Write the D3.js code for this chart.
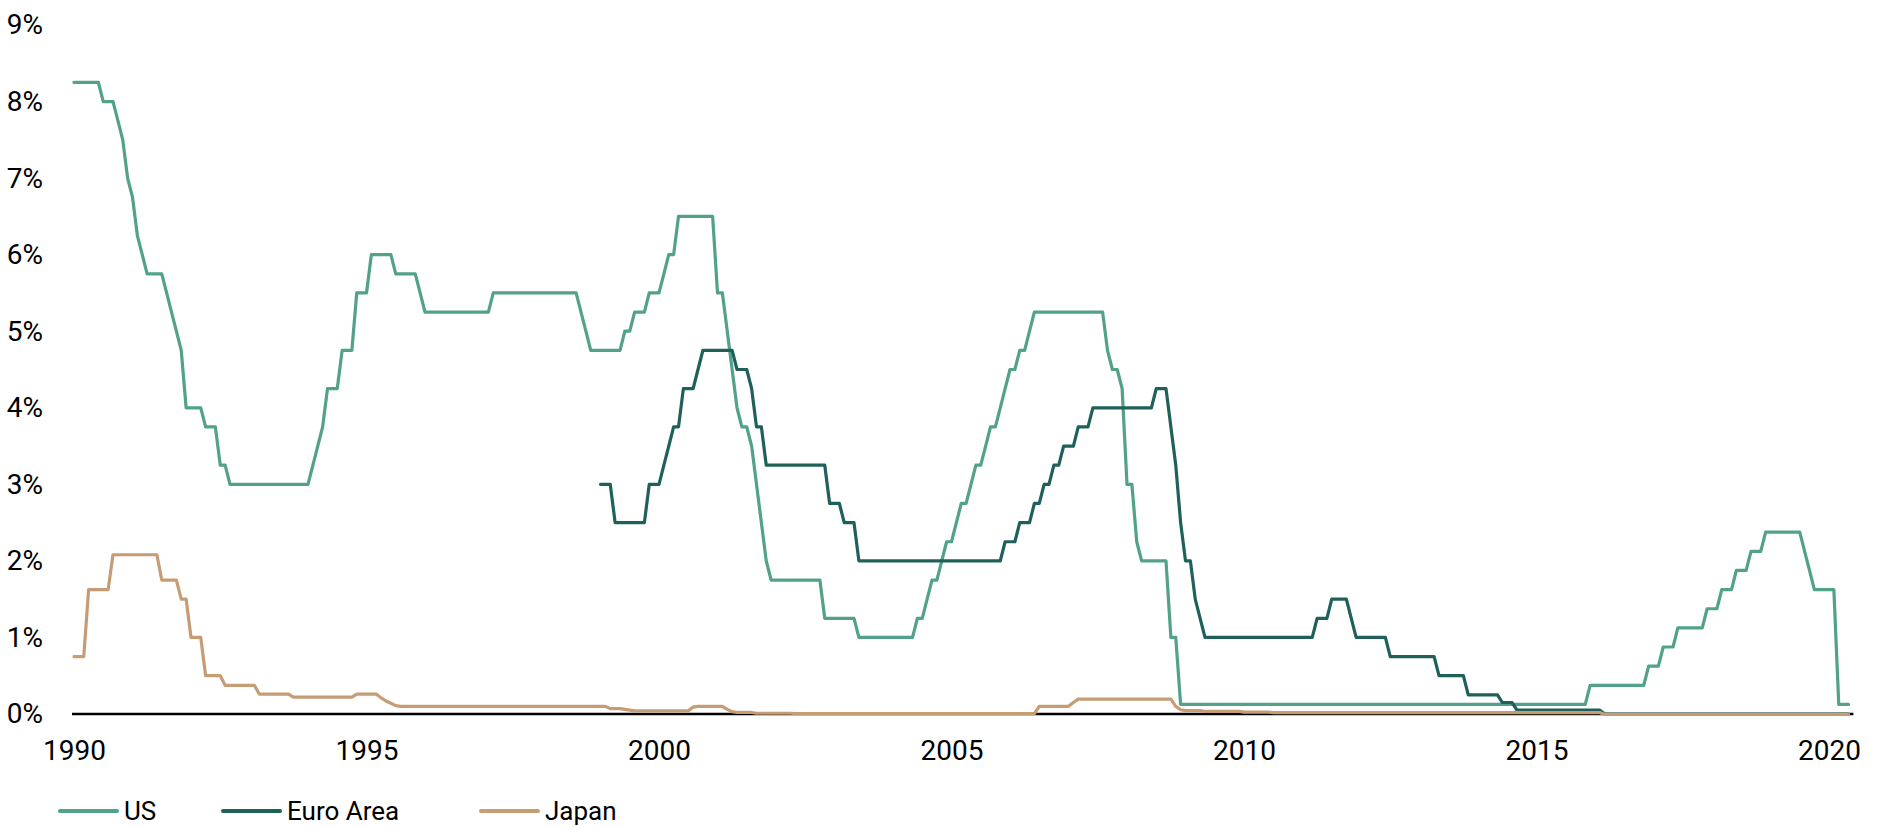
<!DOCTYPE html>
<html>
<head>
<meta charset="utf-8">
<script src="https://cdn.jsdelivr.net/npm/d3@7"></script>
<style>
  html, body { margin: 0; padding: 0; background: #ffffff; }
  svg { display: block; }
  text { font-family: Roboto, "Open Sans", sans-serif; fill: #000; }
</style>
</head>
<body>
<svg id="chart" width="1885" height="827"></svg>
<script>
// Policy rates, month-end, January 1990 to May 2020.
// Each series is stored as runs: [rate in %, number of consecutive months].
const usRuns = [
  // 1990
  [8.25, 6], [8.0, 3], [7.75, 1], [7.5, 1], [7.0, 1],
  // 1991
  [6.75, 1], [6.25, 1], [6.0, 1], [5.75, 4], [5.5, 1], [5.25, 1], [5.0, 1], [4.75, 1], [4.0, 1],
  // 1992
  [4.0, 3], [3.75, 3], [3.25, 2], [3.0, 4],
  // 1993
  [3.0, 12],
  // 1994
  [3.0, 1], [3.25, 1], [3.5, 1], [3.75, 1], [4.25, 3], [4.75, 3], [5.5, 2],
  // 1995
  [5.5, 1], [6.0, 5], [5.75, 5], [5.5, 1],
  // 1996
  [5.25, 12],
  // 1997
  [5.25, 2], [5.5, 10],
  // 1998
  [5.5, 8], [5.25, 1], [5.0, 1], [4.75, 2],
  // 1999
  [4.75, 5], [5.0, 2], [5.25, 3], [5.5, 2],
  // 2000
  [5.5, 1], [5.75, 1], [6.0, 2], [6.5, 8],
  // 2001
  [5.5, 2], [5.0, 1], [4.5, 1], [4.0, 1], [3.75, 2], [3.5, 1], [3.0, 1], [2.5, 1], [2.0, 1], [1.75, 1],
  // 2002
  [1.75, 10], [1.25, 2],
  // 2003
  [1.25, 5], [1.0, 7],
  // 2004
  [1.0, 5], [1.25, 2], [1.5, 1], [1.75, 2], [2.0, 1], [2.25, 1],
  // 2005
  [2.25, 1], [2.5, 1], [2.75, 2], [3.0, 1], [3.25, 2], [3.5, 1], [3.75, 2], [4.0, 1], [4.25, 1],
  // 2006
  [4.5, 2], [4.75, 2], [5.0, 1], [5.25, 7],
  // 2007
  [5.25, 8], [4.75, 1], [4.5, 2], [4.25, 1],
  // 2008
  [3.0, 2], [2.25, 1], [2.0, 6], [1.0, 2], [0.125, 1],
  // 2009 - 2015
  [0.125, 72], [0.125, 11], [0.375, 1],
  // 2016
  [0.375, 11], [0.625, 1],
  // 2017
  [0.625, 2], [0.875, 3], [1.125, 6], [1.375, 1],
  // 2018
  [1.375, 2], [1.625, 3], [1.875, 3], [2.125, 3], [2.375, 1],
  // 2019
  [2.375, 7], [2.125, 1], [1.875, 1], [1.625, 3],
  // 2020
  [1.625, 2], [0.125, 3]
];

// Euro Area series begins in January 1999 (month 108)
const euroStart = 108;
const euroRuns = [
  // 1999
  [3.0, 3], [2.5, 7], [3.0, 2],
  // 2000
  [3.0, 1], [3.25, 1], [3.5, 1], [3.75, 2], [4.25, 3], [4.5, 1], [4.75, 3],
  // 2001
  [4.75, 4], [4.5, 3], [4.25, 1], [3.75, 2], [3.25, 2],
  // 2002
  [3.25, 11], [2.75, 1],
  // 2003
  [2.75, 2], [2.5, 3], [2.0, 7],
  // 2004 - 2005
  [2.0, 12], [2.0, 11], [2.25, 1],
  // 2006
  [2.25, 2], [2.5, 3], [2.75, 2], [3.0, 2], [3.25, 2], [3.5, 1],
  // 2007
  [3.5, 2], [3.75, 3], [4.0, 7],
  // 2008
  [4.0, 6], [4.25, 3], [3.75, 1], [3.25, 1], [2.5, 1],
  // 2009
  [2.0, 2], [1.5, 1], [1.25, 1], [1.0, 8],
  // 2010
  [1.0, 12],
  // 2011
  [1.0, 3], [1.25, 3], [1.5, 4], [1.25, 1], [1.0, 1],
  // 2012
  [1.0, 6], [0.75, 6],
  // 2013
  [0.75, 4], [0.5, 6], [0.25, 2],
  // 2014
  [0.25, 5], [0.15, 3], [0.05, 4],
  // 2015 - 2016
  [0.05, 12], [0.05, 2], [0.0, 10],
  // 2017 - 2020
  [0.0, 36], [0.0, 5]
];

const japanRuns = [
  [0.75, 3], [1.625, 5], [2.08, 10], [1.75, 4], [1.5, 2], [1.0, 3], [0.5, 4],
  [0.375, 7], [0.26, 7], [0.22, 13], [0.26, 5],
  [0.21, 1], [0.17, 1], [0.14, 1], [0.11, 1],
  [0.1, 43], [0.07, 3], [0.06, 1], [0.05, 1], [0.04, 12], [0.09, 1],
  [0.1, 6], [0.06, 1], [0.03, 1], [0.02, 4], [0.01, 8], [0.004, 50],
  [0.1, 7], [0.15, 1], [0.195, 20], [0.1, 1], [0.055, 1],
  [0.045, 4], [0.035, 8], [0.025, 6], [0.018, 68], [-0.005, 51]
];

const seriesNames = ["US", "Euro Area", "Japan"];
const seriesColors = ["#52a18a", "#1f605b", "#c69c75"];

const yTicks = [0, 1, 2, 3, 4, 5, 6, 7, 8, 9];
const xTickYears = ["1990", "1995", "2000", "2005", "2010", "2015", "2020"];

// Expand runs into monthly points {m: month index from Jan 1990, v: rate}
function expand(runs, start) {
  const out = [];
  let m = start;
  for (const [v, n] of runs) {
    for (let k = 0; k < n; k++) out.push({ m: m++, v: v });
  }
  return out;
}

const series = [
  expand(usRuns, 0),
  expand(euroRuns, euroStart),
  expand(japanRuns, 0)
];

const svg = d3.select("#chart");

const x = d3.scaleLinear().domain([0, 360]).range([74, 1829]);
const y = d3.scaleLinear().domain([0, 9]).range([714, 25]);

// y axis labels
const yAxis = d3.axisLeft(y)
  .tickValues(yTicks)
  .tickFormat(d => d + "%")
  .tickSize(0)
  .tickPadding(0);
const gy = svg.append("g").attr("transform", "translate(43,0)").call(yAxis);
gy.select(".domain").remove();
gy.selectAll("text").style("font-size", "28px").style("font-family", "Roboto, sans-serif").attr("fill", "#000");

// x axis labels
const xAxis = d3.axisBottom(x)
  .tickValues(xTickYears.map((_, i) => i * 60))
  .tickFormat((d, i) => xTickYears[i])
  .tickSize(0)
  .tickPadding(26);
const gx = svg.append("g").attr("transform", `translate(0,${y(0)})`).call(xAxis);
gx.select(".domain").remove();
gx.selectAll("text").style("font-size", "28px").style("font-family", "Roboto, sans-serif").attr("fill", "#000");

// zero line
svg.append("line")
  .attr("x1", x(0) - 2).attr("x2", x(365))
  .attr("y1", y(0)).attr("y2", y(0))
  .attr("stroke", "#000").attr("stroke-width", 2.6);

// series lines
const line = d3.line().x(d => x(d.m)).y(d => y(d.v)).curve(d3.curveLinear);
svg.append("g").selectAll("path")
  .data(series)
  .join("path")
  .attr("d", line)
  .attr("fill", "none")
  .attr("stroke", (d, i) => seriesColors[i])
  .attr("stroke-width", 3.2)
  .attr("stroke-linejoin", "round")
  .attr("stroke-linecap", "round");

// legend
const legendX = [60, 223, 481];
const legendY = 811;
const lg = svg.append("g").selectAll("g")
  .data(seriesNames)
  .join("g")
  .attr("transform", (d, i) => `translate(${legendX[i]},${legendY})`);
lg.append("line")
  .attr("x1", 0).attr("x2", 57)
  .attr("y1", 0).attr("y2", 0)
  .attr("stroke", (d, i) => seriesColors[i])
  .attr("stroke-width", 4)
  .attr("stroke-linecap", "round");
lg.append("text")
  .attr("x", 64).attr("y", 9)
  .style("font-size", "26px")
  .text(d => d);
</script>
</body>
</html>
